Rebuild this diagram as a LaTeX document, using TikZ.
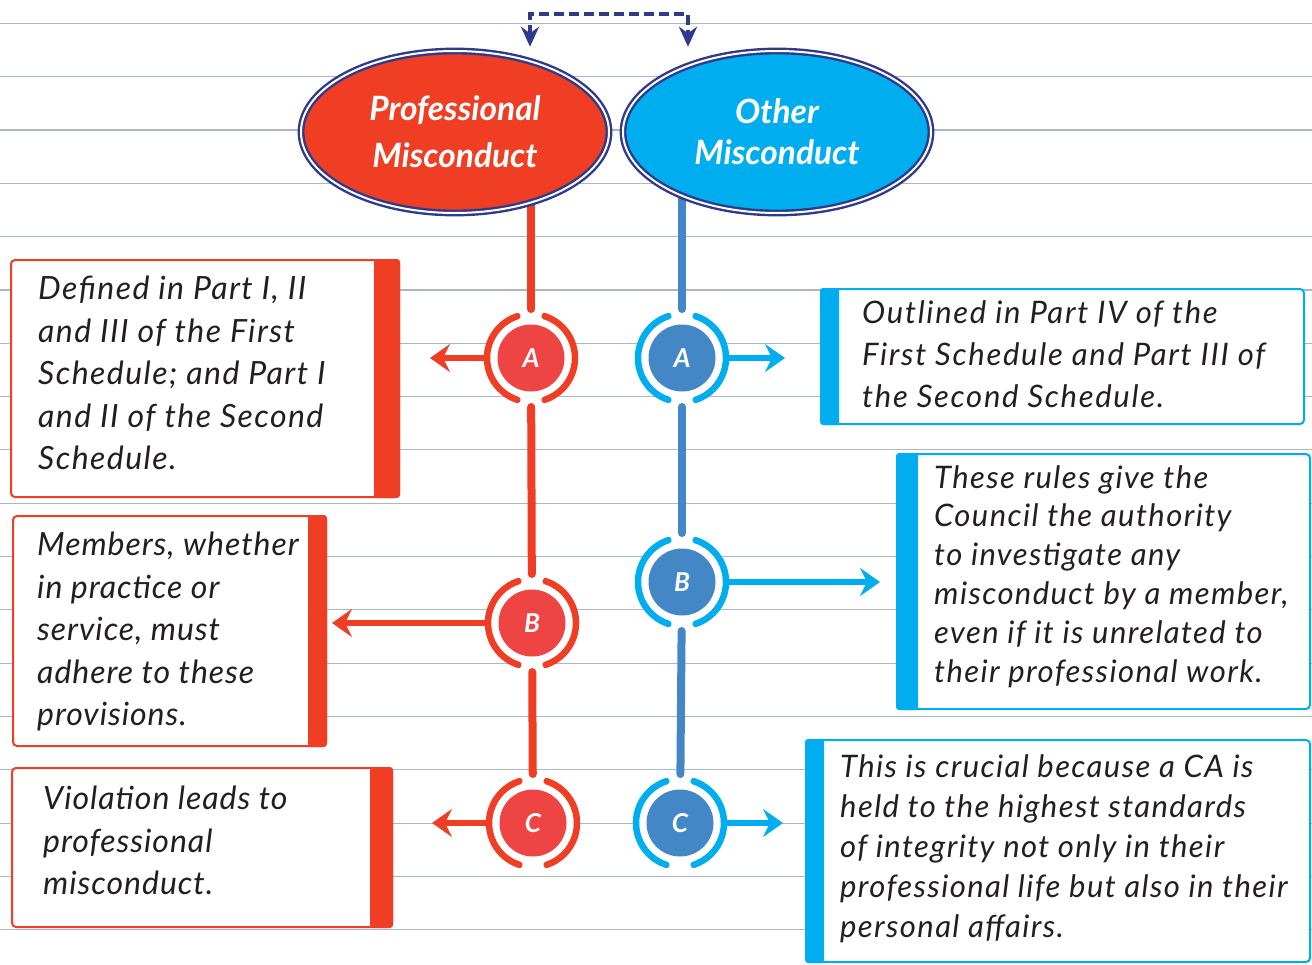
\documentclass[tikz,border=0pt]{standalone}
\usepackage{fontspec}
\setmainfont{Lato}
\usetikzlibrary{arrows.meta,calc,shapes.geometric}
\definecolor{rd}{HTML}{EF3E23}
\definecolor{rdin}{HTML}{EE4443}
\definecolor{cy}{HTML}{00AEEF}
\definecolor{bl}{HTML}{4487C6}
\definecolor{nv}{HTML}{2E3A8C}
\definecolor{rulec}{HTML}{A9B8C4}
\definecolor{ink}{HTML}{231F20}
\pgfdeclarelayer{back}
\pgfsetlayers{back,main}
\begin{document}
\begin{tikzpicture}[x=1pt,y=-1pt,
  rulel/.style={draw=rulec, line width=1.1pt},
  ell/.style={ellipse, minimum width=308pt, minimum height=162pt, draw=nv, line width=2.4pt, double=white, double distance=2pt, text=white, align=center, inner sep=0pt},
  rnode/.style={circle, fill=rdin, minimum size=67pt, inner sep=0pt, text=white, font=\fontsize{26}{26}\selectfont\bfseries\itshape},
  bnode/.style={rnode, fill=bl},
  ringarc/.style={line width=6.5pt, line cap=round},
  vcon/.style={line width=8pt, line cap=round, shorten <=49pt, shorten >=49pt},
  topline/.style={line width=8pt, line cap=round, shorten >=49pt},
  harr/.style={line width=6pt, shorten <=46pt, -{Stealth[length=20pt,width=28pt,inset=7pt]}},
  tbox/.style={rectangle, rounded corners=4pt, line width=2pt, fill=white, inner sep=0pt},
  txt/.style={align=left, inner sep=0pt, text=ink, anchor=north west},
  topc/.style={draw=nv, line width=3.5pt, dash pattern=on 10pt off 5pt, {Stealth[length=20pt,width=18pt]}-{Stealth[length=20pt,width=18pt]}}
]
\useasboundingbox (0,0) rectangle (1312,964);

% ellipses
\node[ell, fill=rd, font=\fontsize{33.5}{47}\selectfont\bfseries\itshape] (pm) at (455,132) {Professional\\Misconduct};
\node[ell, fill=cy, font=\fontsize{33.5}{41}\selectfont\bfseries\itshape] (om) at (777,132) {Other\\Misconduct};

% circles
\node[rnode] (rA) at (531,358) {A};
\node[rnode] (rB) at (532,623) {B};
\node[rnode] (rC) at (533,823) {C};
\node[bnode] (bA) at (682,358) {A};
\node[bnode] (bB) at (682,582) {B};
\node[bnode] (bC) at (680,823) {C};

\foreach \n/\c in {rA/rd, rB/rd, rC/rd, bA/cy, bB/cy, bC/cy}{
  \draw[ringarc, draw=\c] ([shift={(108:44)}]\n.center) arc[start angle=108, end angle=252, radius=44];
  \draw[ringarc, draw=\c] ([shift={(-72:44)}]\n.center) arc[start angle=-72, end angle=72, radius=44];
}

% arrow ends
\coordinate (eRA) at (430,358);
\coordinate (eRB) at (332,623);
\coordinate (eRC) at (432,823);
\coordinate (eBA) at (785,358);
\coordinate (eBB) at (880,582);
\coordinate (eBC) at (783,823);
\draw[harr, draw=rd, fill=rd] (rA.center) -- (eRA);
\draw[harr, draw=rd, fill=rd] (rB.center) -- (eRB);
\draw[harr, draw=rd, fill=rd] (rC.center) -- (eRC);
\draw[harr, draw=cy, fill=cy] (bA.center) -- (eBA);
\draw[harr, draw=cy, fill=cy] (bB.center) -- (eBB);
\draw[harr, draw=cy, fill=cy] (bC.center) -- (eBC);

% boxes
\node[tbox, draw=rd, minimum width=388pt, minimum height=237pt] (b1) at (205,378.5) {};
\node[tbox, draw=rd, minimum width=313pt, minimum height=230pt] (b2) at (169.5,631) {};
\node[tbox, draw=rd, minimum width=380pt, minimum height=159pt] (b3) at (202,847.5) {};
\node[tbox, draw=cy, minimum width=483pt, minimum height=135pt] (c1) at (1062.5,356.5) {};
\node[tbox, draw=cy, minimum width=413pt, minimum height=255pt] (c2) at (1103.5,581.5) {};
\node[tbox, draw=cy, minimum width=504pt, minimum height=222pt] (c3) at (1058,851) {};
\fill[rd, rounded corners=3pt] ($(b1.north east)+(-26,0)$) rectangle (b1.south east);
\fill[rd, rounded corners=3pt] ($(b2.north east)+(-19,0)$) rectangle (b2.south east);
\fill[rd, rounded corners=3pt] ($(b3.north east)+(-23,0)$) rectangle (b3.south east);
\fill[cy, rounded corners=3pt] (c1.north west) rectangle ($(c1.south west)+(19,0)$);
\fill[cy, rounded corners=3pt] (c2.north west) rectangle ($(c2.south west)+(22,0)$);
\fill[cy, rounded corners=3pt] (c3.north west) rectangle ($(c3.south west)+(19,0)$);

% texts
\node[txt, font=\fontsize{32}{42.5}\selectfont\itshape\addfontfeature{LetterSpace=4.5}] (t1) at (38,276) {Defined in Part I, II\\and III of the First\\Schedule; and Part I\\and II of the Second\\Schedule.};
\node[txt, font=\fontsize{32}{42.5}\selectfont\itshape\addfontfeature{LetterSpace=3}] (t2) at (37,532) {Members, whether\\in practice or\\service, must\\adhere to these\\provisions.};
\node[txt, font=\fontsize{32}{42.5}\selectfont\itshape\addfontfeature{LetterSpace=3}] (t3) at (43,786) {Violation leads to\\professional\\misconduct.};
\node[txt, font=\fontsize{31}{42}\selectfont\itshape\addfontfeature{LetterSpace=5.5}] (t4) at (862,300) {Outlined in Part IV of the\\First Schedule and Part III of\\the Second Schedule.};
\node[txt, font=\fontsize{31}{38.8}\selectfont\itshape\addfontfeature{LetterSpace=4.5}] (t5) at (934,465) {These rules give the\\Council the authority\\to investigate any\\misconduct by a member,\\even if it is unrelated to\\their professional work.};
\node[txt, font=\fontsize{31}{40}\selectfont\itshape\addfontfeature{LetterSpace=4.5}] (t6) at (840,754) {This is crucial because a CA is\\held to the highest standards\\of integrity not only in their\\professional life but also in their\\personal affairs.};

% top dashed connector
\draw[topc] ($(pm.north)+(75,-3)$) -- ++(0,-33) -| ($(om.north)+(-89,-3)$);

\begin{pgfonlayer}{back}
  \foreach \k in {0,...,17}{
    \draw[rulel] (0,{23.3+53.33*\k}) -- (1312,{23.3+53.33*\k});
  }
  \foreach \n in {rA,rB,rC,bA,bB,bC}{
    \fill[white] (\n.center) circle[radius=47];
  }
  \draw[topline, draw=rd] (pm.center -| rA.center) -- (rA.center);
  \draw[topline, draw=bl] (om.center -| bA.center) -- (bA.center);
  \draw[vcon, draw=rd] (rA.center) -- (rB.center);
  \draw[vcon, draw=rd] (rB.center) -- (rC.center);
  \draw[vcon, draw=bl] (bA.center) -- (bB.center);
  \draw[vcon, draw=bl] (bB.center) -- (bC.center);
\end{pgfonlayer}
\end{tikzpicture}
\end{document}
